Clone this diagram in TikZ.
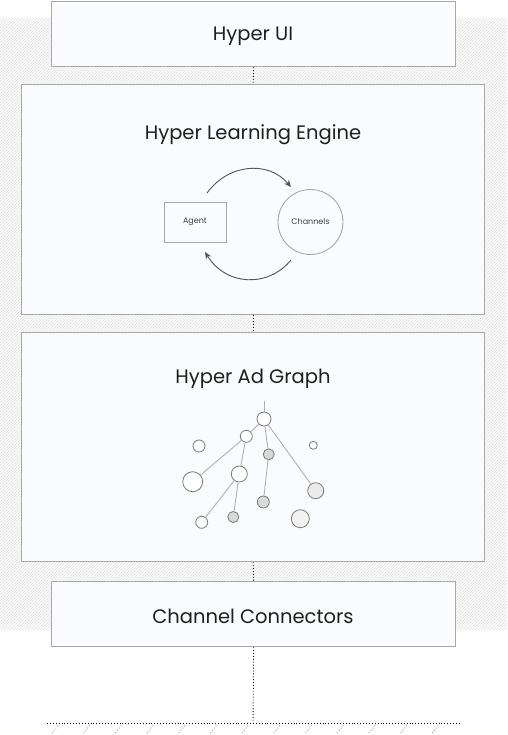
\documentclass[tikz,border=0pt]{standalone}
\usepackage{fontspec}
\setmainfont{Poppins}
\usetikzlibrary{arrows.meta}
\definecolor{boxfill}{HTML}{FAFBFE}
\definecolor{boxline}{HTML}{A8A8A8}
\definecolor{hatch}{HTML}{DCDCDC}
\definecolor{arrowc}{HTML}{555555}
\definecolor{gline}{HTML}{B0B0B0}
\definecolor{gnode}{HTML}{7A7A7A}
\tikzset{
  layer/.style={draw=boxline, line width=1.3pt, fill=boxfill, inner sep=0pt, anchor=north west},
  conn/.style={dotted, line width=0.9pt, black},
  gn/.style={circle, draw=gnode, line width=0.8pt, fill=white, inner sep=0pt},
  ge/.style={draw=gline, line width=0.9pt},
  flow/.style={draw=arrowc, line width=0.9pt, -{Stealth[length=7pt,width=6pt]}},
  title/.style={font=\fontsize{19.5}{23}\selectfont, text=black!88}
}
\begin{document}
\begin{tikzpicture}[x=1pt,y=-1pt]
\useasboundingbox (0,0) rectangle (507,735);
% hatched background
\begin{scope}
  \clip (0,19) rectangle (507,630);
  \foreach \i in {-620,-617,...,510} {
    \draw[hatch, line width=0.6pt] (\i,630) -- ++(620,-620);
  }
\end{scope}
% layers
\node[layer, minimum width=404pt, minimum height=65pt] (ui) at (51,1) {};
\node[layer, minimum width=463pt, minimum height=230pt] (hle) at (21,84) {};
\node[layer, minimum width=463pt, minimum height=229pt] (hag) at (21,332) {};
\node[layer, minimum width=404pt, minimum height=65pt] (cc) at (51,581) {};
% titles
\node[title] (uit) at (253,36) {Hyper UI};
\node[title] (hlet) at (253,135) {Hyper Learning Engine};
\node[title] (hagt) at (253,379) {Hyper Ad Graph};
\node[title] (cct) at (253,616) {Channel Connectors};
% connectors between layers
\draw[conn] (ui.south) -- (hle.north);
\draw[conn] (hle.south) -- (hag.north);
\draw[conn] (hag.south) -- (cc.north);
\coordinate (g) at (253,723);
\coordinate (gl) at (47,723);
\coordinate (gr) at (459,723);
\draw[conn] (cc.south) -- (g);
\draw[conn] (gl) -- (gr);
\foreach \k in {0,...,12} {
  \draw[gray!80, dotted, line width=0.9pt] ({52+31.7*\k},733) -- ++(7,-9);
}
% learning engine
\node[draw=boxline, line width=0.9pt, fill=boxfill, minimum width=62pt, minimum height=40pt, inner sep=0pt,
      font=\fontsize{8}{9}\selectfont, text=black!75] (agent) at (195,222) {Agent};
\node[circle, draw=boxline, line width=0.9pt, fill=boxfill, minimum size=65pt, inner sep=0pt,
      font=\fontsize{8}{9}\selectfont, text=black!75] (chan) at (310.5,222) {Channels};
\coordinate (a1) at (207,193);
\coordinate (a2) at (291,187);
\coordinate (b1) at (291,260);
\coordinate (b2) at (205,252);
\draw[flow] (a1) .. controls (228,164) and (268,160) .. (a2);
\draw[flow] (b1) .. controls (268,288) and (226,286) .. (b2);
% ad graph
\coordinate (top) at (264,401);
\node[gn, minimum size=14pt] (r) at (264,419) {};
\node[gn, minimum size=12pt] (a) at (246.3,436.3) {};
\node[gn, minimum size=12pt] (i1) at (199,446) {};
\node[gn, minimum size=8pt] (i2) at (313.3,445.3) {};
\node[gn, minimum size=11pt, fill=black!15] (b) at (268.7,454.3) {};
\node[gn, minimum size=20pt] (bl) at (192.7,481.7) {};
\node[gn, minimum size=16pt] (c) at (239.3,474) {};
\node[gn, minimum size=16pt, fill=black!8] (rt) at (315.7,490.7) {};
\node[gn, minimum size=12pt, fill=black!15] (d) at (263.3,502) {};
\node[gn, minimum size=11pt, fill=black!15] (e) at (233.3,517) {};
\node[gn, minimum size=12pt] (f) at (201.7,522.3) {};
\node[gn, minimum size=18pt, fill=black!5] (g2) at (300.3,518.7) {};
\draw[ge] (top) -- (r);
\draw[ge] (r) -- (a);
\draw[ge] (r) -- (b);
\draw[ge] (r) -- (rt);
\draw[ge] (a) -- (bl);
\draw[ge] (a) -- (c);
\draw[ge] (b) -- (d);
\draw[ge] (c) -- (e);
\draw[ge] (c) -- (f);
\end{tikzpicture}
\end{document}
